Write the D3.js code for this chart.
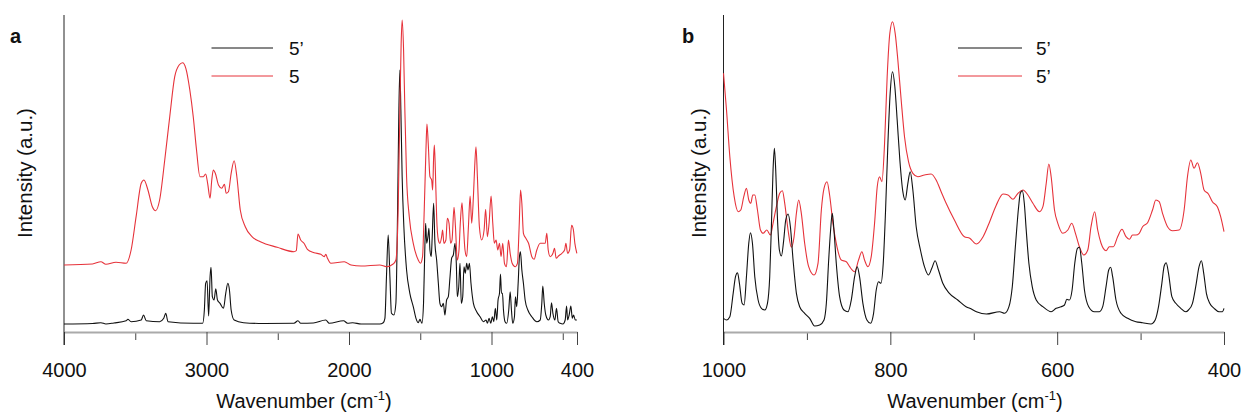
<!DOCTYPE html>
<html>
<head>
<meta charset="utf-8">
<script src="https://cdn.jsdelivr.net/npm/d3@7"></script>
<style>
  body { margin: 0; background: #fff; }
  text { font-family: "Liberation Sans", Arial, sans-serif; fill: #111; }
</style>
</head>
<body>
<div id="ChartContainer"></div>
<script>
// ---- data (wavenumber, intensity a.u.) ----
var aTicksMajor = [4000, 3000, 2000, 1000, 400]
var aTicksMinor = [3500, 2500, 1500, 500]
var bTicksMajor = [1000, 800, 600, 400]
var bTicksMinor = [900, 700, 500]
var aLegend = ["5\u2019", "5"]
var bLegend = ["5\u2019", "5\u2019"]

// panel a, compound 5' (black)
var aBlack = [
  [4000,8],[3800,8.5],[3741,9.3],[3706,8],[3650,9],[3564,11.3],[3552,12.7],[3529,10.3],[3458,12],[3442,17],
  [3423,11.3],[3329,10.3],[3300,13.7],[3286,18.7],[3270,10.3],[3093,8.7],[3027,8.7],[3015,22],[3006,48.7],[2996,51.3],
  [2985,16],[2975,55.3],[2968,64.7],[2959,35.3],[2947,32],[2935,43.3],[2923,32],[2905,28.7],[2881,23.7],[2865,38.7],
  [2850,48.7],[2839,42],[2827,22],[2806,12],[2740,9.3],[2600,8.5],[2386,8.7],[2358,11.3],[2339,8.7],[2250,9],
  [2163,12],[2139,8.7],[2038,11.3],[2010,8.7],[1974,9.3],[1915,8],[1784,8],[1760,9.3],[1748,13.7],[1737,55.3],
  [1725,97],[1713,55.3],[1702,18.7],[1685,17],[1671,28.7],[1659,122],[1650,222],[1643,262],[1636,222],[1627,155.3],
  [1615,105.3],[1596,62],[1573,38.7],[1549,25.3],[1530,13.7],[1514,9.3],[1502,12.7],[1488,8.7],[1477,28.7],[1467,88.7],
  [1462,108.7],[1455,88.7],[1446,95.3],[1439,103.7],[1432,82],[1423,75.3],[1416,95.3],[1406,128.7],[1397,88.7],[1385,72],
  [1373,48.7],[1362,28.7],[1350,25.3],[1338,28.7],[1327,17],[1315,32],[1303,35.3],[1291,55.3],[1280,73.7],[1268,77],
  [1256,88.7],[1247,68.7],[1240,35.3],[1230,45.3],[1221,68.7],[1212,28.7],[1202,35.3],[1193,65.3],[1184,58.7],[1174,68.7],
  [1165,62],[1155,68.7],[1144,48.7],[1127,28.7],[1104,20.3],[1080,15.3],[1057,10.3],[1038,12],[1029,8.7],[1017,13.7],
  [1005,8.7],[994,15.3],[984,10.3],[973,23.7],[963,12],[954,32],[944,38.7],[937,58],[930,38.7],[923,38.7],
  [916,22],[905,10.3],[893,8.7],[879,22],[869,40.3],[860,22],[851,8.7],[839,15.3],[832,35.3],[823,25.3],
  [813,48.7],[804,75.3],[797,80.3],[787,62],[776,48.7],[764,32],[745,22],[717,15.3],[682,10.3],[658,12],
  [647,28.7],[640,46],[630,28.7],[619,17],[600,12],[588,15.3],[579,29.3],[569,18.7],[555,12],[544,23.7],
  [532,10.3],[518,8.7],[499,8],[483,12],[473,26],[466,12],[455,17],[443,26],[433,13.7],[424,17],
  [412,12],[401,12]
]

// panel a, compound 5 (red)
var aRed = [
  [4000,67],[3800,68],[3741,70.3],[3706,67.7],[3635,69.7],[3564,68.7],[3529,82],[3494,115.3],[3458,148.7],[3439,152],
  [3411,142],[3380,125.3],[3357,121.3],[3329,132],[3293,172],[3258,215.3],[3223,255.3],[3192,267],[3168,269.3],[3145,263.7],
  [3117,242],[3093,215.3],[3070,182],[3046,155.3],[3022,155.3],[3006,158],[2992,148.7],[2975,133.7],[2963,152],[2952,162],
  [2938,158.7],[2916,147],[2893,143.7],[2874,147.7],[2862,138.7],[2846,140.3],[2827,158.7],[2806,171.3],[2787,155.3],[2763,122],
  [2728,105.3],[2681,95.3],[2622,90.3],[2504,84.7],[2386,80.3],[2370,81.3],[2358,98],[2339,92],[2316,88.7],[2292,82.7],
  [2245,79.3],[2198,77.7],[2174,75.3],[2163,77.7],[2151,73.7],[2127,68.7],[2033,70.3],[1986,67],[1915,66],[1784,67],
  [1737,65.3],[1690,68],[1671,72],[1655,122],[1643,222],[1634,288.7],[1627,312],[1617,282],[1608,222],[1596,155.3],
  [1577,115.3],[1549,88.7],[1514,72],[1498,68.7],[1484,75.3],[1472,122],[1460,182],[1453,208],[1444,188.7],[1432,155.3],
  [1420,152],[1413,142],[1406,175.3],[1401,187],[1394,162],[1385,115.3],[1373,92],[1362,88.7],[1350,95.3],[1343,102],
  [1334,88.7],[1320,92],[1310,113.7],[1298,108.7],[1287,88.7],[1277,92],[1263,124.7],[1253,105.3],[1240,72],[1228,82],
  [1219,108.7],[1207,129.3],[1198,108.7],[1186,82],[1174,75.3],[1162,105.3],[1150,136],[1139,108.7],[1127,135.3],[1118,165.3],
  [1109,185.3],[1099,155.3],[1085,105.3],[1069,92],[1052,102],[1041,122.7],[1029,95.3],[1017,108.7],[1003,136],[991,108.7],
  [980,88.7],[968,92],[956,82],[944,88.7],[933,75.3],[921,88.7],[909,68.7],[895,65.3],[881,92],[869,78.7],
  [855,68.7],[834,65.3],[818,68.7],[806,105.3],[796,142],[787,128.7],[776,98.7],[759,93.7],[740,88.7],[717,75.3],
  [701,72.7],[682,82],[658,88.7],[635,88.7],[623,88.7],[612,98.7],[602,82],[588,75.3],[569,78.7],[558,83.7],
  [546,73.7],[530,76],[506,78.7],[487,82],[478,88.7],[466,78.7],[452,82],[438,106.7],[426,102.7],[415,88.7],
  [401,78.7]
]

// panel b, compound 5' (black)
var bBlack = [
  [1000,13.7],[996.4,12],[992.4,15.3],[988.4,38.7],[985.6,55.3],[983.2,59.3],[980.9,48.7],[977.7,28.7],[975.3,27],[972.5,55.3],
  [969.7,88.7],[967.7,99.3],[965.3,88.7],[962.5,55.3],[958.5,32],[954.5,23.7],[950.5,22],[947.3,28.7],[944.6,55.3],[942.6,105.3],
  [940.6,162],[939,183.7],[937.4,162],[935.4,115.3],[933,82],[930.6,76],[927.8,92],[925.4,112],[922.6,118],[919.8,105.3],
  [916.6,72],[912.6,38.7],[908.7,25.3],[902.7,18.7],[896.7,13.7],[890.7,6],[884.7,7],[879.5,12],[876.7,28.7],[873.9,72],
  [871.6,102],[869.6,118.7],[867.6,102],[864.8,68.7],[860.8,35.3],[855.6,22],[850.8,20.3],[846.8,32],[842.8,55.3],[839.7,65.3],
  [836.9,55.3],[832.9,28.7],[828.1,12],[823.7,8.7],[820.1,18.7],[816.9,42],[814.1,50.3],[811.3,48.7],[808.5,68.7],[805.7,122],
  [802.9,188.7],[800.2,238.7],[797.4,260.3],[794.6,245.3],[791.8,212],[788.6,172],[785,140.3],[782.2,132],[779,148.7],[776.2,160.3],
  [773,142],[769,105.3],[763.9,82],[759.1,65.3],[754.3,57],[750.3,63.7],[746.3,71.3],[742.3,62],[737.1,48.7],[729.2,38.7],
  [719.2,32],[709.2,25.3],[704.8,23.7],[696.8,20.3],[684.9,18],[668.9,20.3],[663,18.7],[657.8,25.3],[653.8,45.3],[649.8,88.7],
  [646.2,125.3],[644.2,138.7],[641.8,141.3],[639.4,128.7],[637.1,102],[633.9,68.7],[629.9,45.3],[625.1,32],[617.1,25.3],[607.2,20.3],
  [601.2,23.7],[595.2,25.3],[591.2,27],[588.4,32.7],[585.3,32],[582.1,42],[578.9,68.7],[575.7,83.7],[573.3,84.7],[570.5,68.7],
  [567.3,42],[562.2,25.3],[555.4,20.3],[549.4,20.3],[545.4,25.3],[541.4,45.3],[538.2,62],[535.9,64.7],[533.5,55.3],[529.5,32],
  [523.5,18.7],[515.5,13.7],[505.6,10.3],[497.6,9.3],[487.6,8],[482.5,12],[478.5,25.3],[474.5,48.7],[471.7,66],[469.3,69.3],
  [466.5,58.7],[462.5,35.3],[457.8,28.7],[451.8,23.7],[445.8,20.3],[442.6,22],[437.8,28.7],[433.9,45.3],[429.9,65.3],[427.1,71.3],
  [424.3,58.7],[421.1,38.7],[417.1,28.7],[411.9,23.7],[406,20.3],[402,20.3],[400,23.7]
]

// panel b, second trace (red)
var bRed = [
  [1000,258.7],[996.4,222],[992.4,175.3],[987.2,135.3],[982.4,120.3],[979.3,122],[975.7,135.3],[972.5,143.7],[969.7,132],[967.3,128.7],
  [964.9,137],[962.5,137],[959.3,122],[955.7,102],[952.5,98.7],[948.1,102],[943.8,97],[940.6,108.7],[936.6,125.3],[932.6,138.7],
  [929.4,141.3],[926.6,128.7],[922.6,102],[918.6,84.7],[915.4,95.3],[912.6,118.7],[909.9,132],[906.7,118.7],[902.7,88.7],[897.9,65.3],
  [891.5,57],[886.7,68.7],[882.7,122],[879.5,143.7],[875.9,150.3],[872.8,137],[868.8,108.7],[864.8,88.7],[858.8,72],[852.8,70.3],
  [848.8,65.3],[842.8,60.3],[838.1,72],[834.1,80.3],[830.9,72],[826.9,65.3],[822.9,75.3],[818.9,108.7],[815.7,145.3],[812.9,155.3],
  [810.1,150.3],[806.9,188.7],[803.8,255.3],[800.6,298.7],[797.4,310.3],[794.2,298.7],[791,272],[787,232],[783,195.3],[778.2,170.3],
  [773,158.7],[767,155.3],[759.1,157],[751.1,158],[745.1,152],[739.1,140.3],[733.1,128.7],[723.2,112],[711.2,95.3],[704.8,93.7],
  [696.8,88],[688.8,95.3],[680.9,110.3],[672.9,127],[664.9,138],[659,137],[653,132.7],[647,138.7],[641,142],[635.1,137],
  [629.1,128.7],[621.1,120.3],[617.1,125.3],[613.1,148.7],[610,168],[607.2,155.3],[603.2,122],[599.2,108.7],[593.2,98.7],[587.2,102],
  [582.5,108.7],[578.1,98.7],[573.3,85.3],[568.1,77],[563.3,82],[559.4,105.3],[555,120.3],[551.4,102],[547.4,88.7],[541.4,81.3],
  [537.5,85.3],[532.7,85.3],[527.5,95.3],[522.3,102.7],[517.5,95.3],[513.5,92.7],[509.6,97],[505.6,97],[501.6,98.7],[497.6,105.3],
  [491.6,109.3],[485.7,122],[481.7,132],[477.7,130.3],[473.7,118.7],[467.7,105.3],[461.8,101.3],[453.8,102],[447.8,122],[443.8,155.3],
  [439.8,172],[435.9,163.7],[431.9,169.3],[427.9,158.7],[423.9,142],[418.7,138],[413.9,130.3],[408,125.3],[404,115.3],[400,100.3]
]

var fullWidth = 1244
var fullHeight = 415
var axisY = 332
var topY = 15
var red = "#e6323a"
var black = "#111"

var svg = d3.select("#ChartContainer").append("svg")
  .attr("width", fullWidth)
  .attr("height", fullHeight)

var y = d3.scaleLinear().domain([0, 317]).range([axisY, topY])

var panels = [
  {
    letter: "a", letterX: 10, domain: [4000, 400], range: [64, 577],
    major: aTicksMajor, minor: aTicksMinor,
    series: [[aBlack, black], [aRed, red]],
    legend: aLegend, legX1: 211.5, legX2: 273, legTextX: 289,
    xLabelX: 304, yLabelX: 32
  },
  {
    letter: "b", letterX: 682, domain: [1000, 400], range: [723.5, 1224],
    major: bTicksMajor, minor: bTicksMinor,
    series: [[bRed, red], [bBlack, black]],
    legend: bLegend, legX1: 958, legX2: 1022, legTextX: 1036,
    xLabelX: 975, yLabelX: 706
  }
]

panels.forEach(function (p) {
  var x = d3.scaleLinear().domain(p.domain).range(p.range)
  var g = svg.append("g")

  // minor ticks
  g.append("g")
    .attr("transform", "translate(0," + axisY + ")")
    .call(d3.axisBottom(x).tickValues(p.minor).tickSize(8).tickSizeOuter(0).tickFormat(""))
    .call(function (a) { a.select(".domain").remove() })
    .selectAll("line").attr("stroke", "#444")

  // major ticks + labels
  var xAxis = g.append("g")
    .attr("transform", "translate(0," + axisY + ")")
    .call(d3.axisBottom(x).tickValues(p.major).tickSize(13).tickSizeOuter(0).tickFormat(d3.format("d")))
  xAxis.select(".domain").attr("stroke", "#aaa").attr("stroke-width", 2)
  xAxis.selectAll(".tick line").attr("stroke", "#444")
  xAxis.selectAll("text")
    .attr("y", 45)
    .attr("dy", 0)
    .attr("font-size", "20px")
    .attr("font-family", "Liberation Sans, Arial, sans-serif")
    .attr("fill", "#111")

  // y axis line
  g.append("line")
    .attr("x1", p.range[0]).attr("x2", p.range[0])
    .attr("y1", topY).attr("y2", axisY + 13)
    .attr("stroke", "#222")
    .attr("stroke-width", 1)

  // spectra
  var line = d3.line()
    .x(function (d) { return x(d[0]) })
    .y(function (d) { return y(d[1]) })
    .curve(d3.curveMonotoneX)
  p.series.forEach(function (s) {
    g.append("path")
      .datum(s[0])
      .attr("fill", "none")
      .attr("stroke", s[1])
      .attr("stroke-width", 1.1)
      .attr("stroke-linejoin", "round")
      .attr("d", line)
  })

  // legend
  var legColors = [black, red]
  p.legend.forEach(function (name, i) {
    var ly = 48 + i * 28
    g.append("line")
      .attr("x1", p.legX1).attr("x2", p.legX2)
      .attr("y1", ly).attr("y2", ly)
      .attr("stroke", legColors[i])
      .attr("stroke-width", 1)
    g.append("text")
      .attr("x", p.legTextX)
      .attr("y", ly + 7)
      .attr("font-size", "19px")
      .text(name)
  })

  // panel letter
  g.append("text")
    .attr("x", p.letterX)
    .attr("y", 43)
    .attr("font-size", "20px")
    .attr("font-weight", "bold")
    .text(p.letter)

  // x-axis label
  var xl = g.append("text")
    .attr("x", p.xLabelX)
    .attr("y", 408)
    .attr("text-anchor", "middle")
    .attr("font-size", "20px")
  xl.append("tspan").text("Wavenumber (cm")
  xl.append("tspan").attr("font-size", "13px").attr("dy", -8).text("-1")
  xl.append("tspan").attr("dy", 8).text(")")

  // y-axis label
  g.append("text")
    .attr("transform", "translate(" + p.yLabelX + ",173) rotate(-90)")
    .attr("text-anchor", "middle")
    .attr("font-size", "20.5px")
    .text("Intensity (a.u.)")
})
</script>
</body>
</html>
